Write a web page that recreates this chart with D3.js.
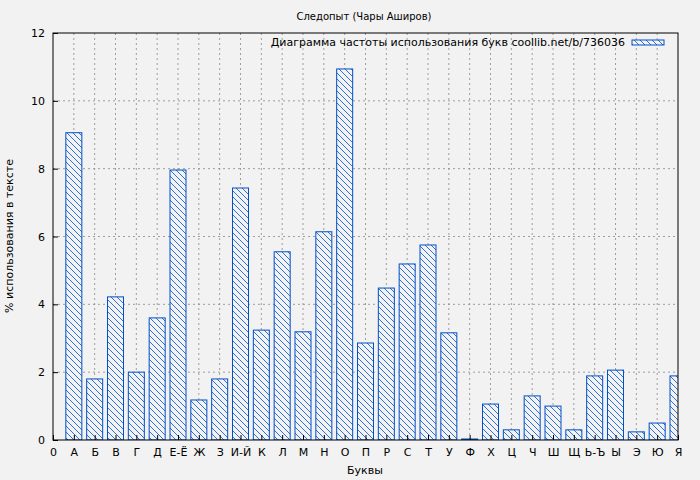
<!DOCTYPE html>
<html><head><meta charset="utf-8">
<script src="https://cdn.jsdelivr.net/npm/d3@7"></script>
<style>body{margin:0;background:#f2f2f2}text{font-family:"DejaVu Sans",sans-serif;font-size:11px;fill:#000}</style>
</head><body><svg id="c" width="700" height="480"></svg>
<script>
const tickLabels=["0","А","Б","В","Г","Д","Е-Ё","Ж","З","И-Й","К","Л","М","Н","О","П","Р","С","Т","У","Ф","Х","Ц","Ч","Ш","Щ","Ь-Ъ","Ы","Э","Ю","Я"];
const letters=tickLabels.slice(1);
const values=[9.06,1.80,4.22,2.0,3.6,7.96,1.18,1.8,7.43,3.24,5.55,3.19,6.14,10.94,2.86,4.48,5.19,5.75,3.16,0.03,1.06,0.3,1.3,1.0,0.3,1.89,2.06,0.24,0.5,1.89];
const yTicks=[0,2,4,6,8,10,12];
const svg=d3.select("#c");
const L=53,R=678,T=33,B=440;
const x=d3.scalePoint().domain(tickLabels).range([L,R]);
const y=d3.scaleLinear().domain([0,12]).range([B,T]);
svg.append("rect").attr("width",700).attr("height",480).attr("fill","#f2f2f2");
const defs=svg.append("defs");
const p=defs.append("pattern").attr("id","h").attr("patternUnits","userSpaceOnUse").attr("width",6).attr("height",6);
p.append("rect").attr("width",6).attr("height",6).attr("fill","#f2f2f2");
p.append("path").attr("d","M-1,-1L7,7M-1,5L1,7M5,-1L7,1").attr("stroke","#0050c8").attr("stroke-width",0.8);
defs.append("clipPath").attr("id","cp").append("rect").attr("x",L).attr("y",T).attr("width",R-L).attr("height",B-T);
const g=svg.append("g");
g.selectAll(".gx").data(tickLabels.slice(1,-1)).join("line").attr("x1",d=>x(d)).attr("x2",d=>x(d)).attr("y1",T).attr("y2",B).attr("stroke","#888").attr("stroke-dasharray","2,3").attr("stroke-width",0.8);
g.selectAll(".gy").data(yTicks.slice(1,-1)).join("line").attr("x1",L).attr("x2",R).attr("y1",d=>y(d)).attr("y2",d=>y(d)).attr("stroke","#888").attr("stroke-dasharray","2,3").attr("stroke-width",0.8);
const bw=16;
svg.append("g").attr("clip-path","url(#cp)").selectAll("rect").data(letters).join("rect")
 .attr("x",(d)=>x(d)-bw/2).attr("width",bw).attr("y",(d,i)=>y(values[i])).attr("height",(d,i)=>B-y(values[i]))
 .attr("fill","url(#h)").attr("stroke","#0050c8").attr("stroke-width",1);
svg.append("rect").attr("x",L).attr("y",T).attr("width",R-L).attr("height",B-T).attr("fill","none").attr("stroke","#000");
const xa=svg.append("g").attr("transform",`translate(0,${B})`).call(d3.axisBottom(x).tickSize(-5).tickPadding(8));
xa.select(".domain").remove();
const ya=svg.append("g").attr("transform",`translate(${L},0)`).call(d3.axisLeft(y).tickValues(yTicks).tickSize(-5).tickPadding(8));
ya.select(".domain").remove();
svg.selectAll(".tick text").style("font-size","11px").style("font-family","DejaVu Sans");
svg.append("text").attr("x",364).attr("y",20).attr("text-anchor","middle").style("font-size","10px").text("Следопыт (Чары Аширов)");
svg.append("text").attr("x",365).attr("y",474).attr("text-anchor","middle").text("Буквы");
svg.append("text").attr("transform","translate(13,236) rotate(-90)").attr("text-anchor","middle").text("% использования в тексте");
svg.append("text").attr("x",625).attr("y",46).attr("text-anchor","end").text("Диаграмма частоты использования букв coollib.net/b/736036");
svg.append("rect").attr("x",632).attr("y",40).attr("width",32).attr("height",5).attr("fill","url(#h)").attr("stroke","#0050c8");
</script></body></html>
